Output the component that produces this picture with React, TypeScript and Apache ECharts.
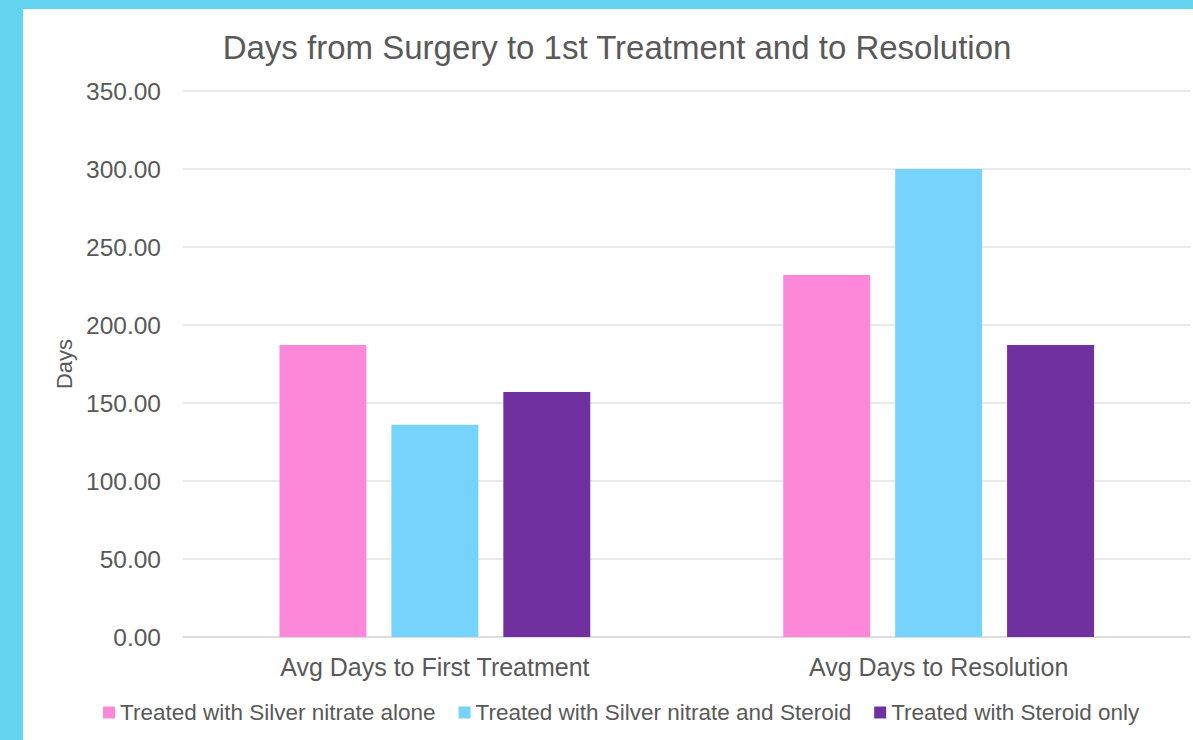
import React, { useEffect, useRef } from "react";
import * as echarts from "echarts";

const categories = ["Avg Days to First Treatment", "Avg Days to Resolution"];
const seriesNames = [
  "Treated with Silver nitrate alone",
  "Treated with Silver nitrate and Steroid",
  "Treated with Steroid only",
];
const silverAlone = [187.2, 232.1];
const silverSteroid = [136.0, 300.0];
const steroidOnly = [157.1, 187.2];
const colors = ["#fd88d9", "#76d4fc", "#7030a0"];

export default function App() {
  const ref = useRef<HTMLDivElement>(null);
  useEffect(() => {
    if (!ref.current) return;
    const chart = echarts.init(ref.current, null, { renderer: "svg" });
    const values = [silverAlone, silverSteroid, steroidOnly];
    chart.setOption({
      animation: false,
      backgroundColor: "#ffffff",
      textStyle: { fontFamily: "Liberation Sans, Arial, sans-serif" },
      title: {
        text: "Days from Surgery to 1st Treatment and to Resolution",
        left: 589,
        textAlign: "center",
        top: 17,
        textStyle: { fontSize: 33, fontWeight: "normal", color: "#595959" },
      },
      legend: {
        left: 80,
        top: 692,
        padding: 0,
        itemWidth: 12,
        itemHeight: 12,
        itemGap: 23,
        icon: "rect",
        textStyle: { fontSize: 22.5, color: "#595959" },
        data: seriesNames,
      },
      grid: { left: 160, right: 2.5, top: 82, bottom: 103, containLabel: false },
      xAxis: {
        type: "category",
        data: categories,
        axisLine: { lineStyle: { color: "#d9d9d9", width: 1.5 } },
        axisTick: { show: false },
        axisLabel: { fontSize: 25, color: "#595959", margin: 17 },
      },
      yAxis: {
        type: "value",
        min: 0,
        max: 350,
        interval: 50,
        name: "Days",
        nameLocation: "middle",
        nameGap: 107,
        nameTextStyle: { fontSize: 22, color: "#595959" },
        axisLabel: {
          fontSize: 24.5,
          color: "#595959",
          margin: 22,
          formatter: (v: number) => v.toFixed(2),
        },
        splitLine: { lineStyle: { color: "#e3e3e3", width: 1.5 } },
      },
      series: seriesNames.map((name, i) => ({
        name,
        type: "bar",
        data: values[i],
        barGap: "28.7%",
        barCategoryGap: "38.3%",
        itemStyle: { color: colors[i] },
      })),
    });
    return () => chart.dispose();
  }, []);
  return (
    <div
      style={{
        position: "fixed",
        left: 0,
        top: 0,
        width: 1193,
        height: 740,
        background: "#64d3ef",
      }}
    >
      <div
        ref={ref}
        style={{ position: "absolute", left: 23, top: 9, width: 1170, height: 731 }}
      />
    </div>
  );
}
